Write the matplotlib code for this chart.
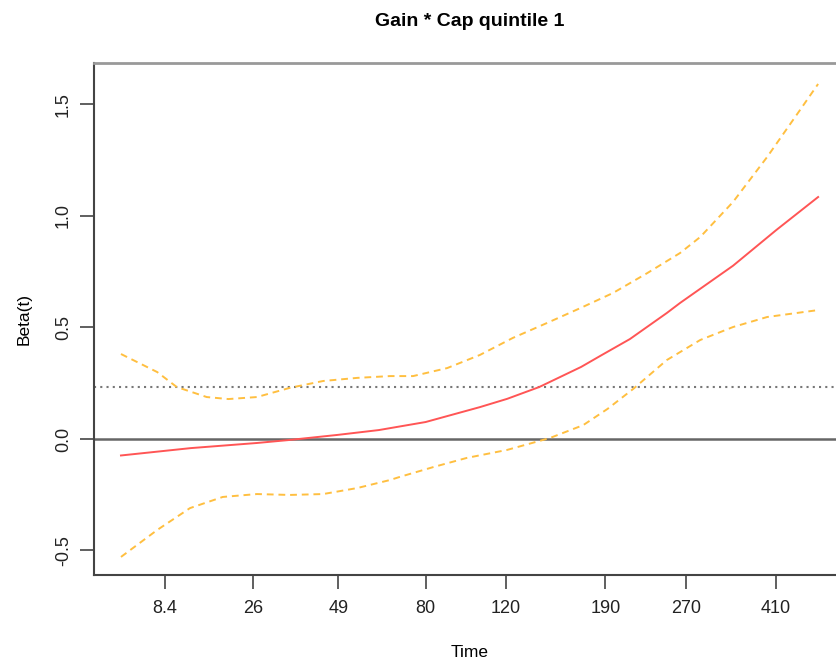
import numpy as np
import matplotlib.pyplot as plt

plt.rcParams['font.family'] = ['Liberation Sans', 'DejaVu Sans']

# transformed time scale (0 = first event, 1 = last event)
tick_pos = [0.063, 0.189, 0.312, 0.437, 0.552, 0.695, 0.811, 0.939]
tick_labels = ['8.4', '26', '49', '80', '120', '190', '270', '410']

# fitted beta(t)
beta_t = [0.00, 0.10, 0.195, 0.24, 0.31, 0.37, 0.437, 0.515, 0.554, 0.60,
          0.66, 0.69, 0.73, 0.783, 0.802, 0.878, 0.94, 1.00]
beta_y = [-0.074, -0.041, -0.018, -0.005, 0.018, 0.040, 0.076, 0.143, 0.18, 0.233,
          0.323, 0.377, 0.448, 0.565, 0.61, 0.777, 0.937, 1.085]

# upper confidence band
upper_t = [0.00, 0.052, 0.08, 0.123, 0.154, 0.195, 0.242, 0.29, 0.339, 0.386,
           0.419, 0.468, 0.515, 0.562, 0.611, 0.659, 0.706, 0.755, 0.802, 0.831,
           0.878, 0.927, 0.974, 1.00]
upper_y = [0.381, 0.30, 0.233, 0.188, 0.179, 0.188, 0.229, 0.26, 0.274, 0.282,
           0.282, 0.318, 0.377, 0.453, 0.52, 0.587, 0.655, 0.744, 0.834, 0.906,
           1.063, 1.265, 1.475, 1.592]

# lower confidence band
lower_t = [0.00, 0.052, 0.099, 0.146, 0.195, 0.242, 0.29, 0.339, 0.386, 0.40,
           0.448, 0.496, 0.554, 0.615, 0.663, 0.698, 0.735, 0.783, 0.831, 0.878, 0.927, 1.00]
lower_y = [-0.529, -0.408, -0.31, -0.26, -0.247, -0.251, -0.247, -0.22, -0.184, -0.170,
           -0.126, -0.085, -0.049, 0.004, 0.062, 0.135, 0.225, 0.354, 0.444, 0.502, 0.547, 0.578]

# coefficient from the overall model
coef = 0.233

fig = plt.figure(figsize=(8.36, 6.61), dpi=100)
ax = fig.add_axes([94/836, 86/661, 752/836, 512/661])

ax.axhline(0, color='#666666', lw=1.8, zorder=1)
ax.axhline(coef, color='#777777', lw=1.5, ls=(0, (1, 2)), zorder=1)
ax.plot(beta_t, beta_y, color='#ff5555', lw=1.4, zorder=3)
ax.plot(upper_t, upper_y, color='#ffbf40', lw=1.4, ls=(0, (3.5, 2.5)), zorder=2)
ax.plot(lower_t, lower_y, color='#ffbf40', lw=1.4, ls=(0, (3.5, 2.5)), zorder=2)

ax.set_xlim(-0.0387, 1.040)
ax.set_ylim(-0.61, 1.686)

ax.set_xticks(tick_pos)
ax.set_xticklabels(tick_labels)
ax.set_yticks([-0.5, 0.0, 0.5, 1.0, 1.5])
ax.set_yticklabels(['-0.5', '0.0', '0.5', '1.0', '1.5'], rotation=90, va='center')
ax.tick_params(axis='both', length=10, width=1.2, color='#444444', labelsize=13,
               labelcolor='#222222', pad=8)
ax.tick_params(axis='y', pad=6)

for s in ['left', 'bottom']:
    ax.spines[s].set_color('#444444')
    ax.spines[s].set_linewidth(1.5)
ax.spines['top'].set_color('#999999')
ax.spines['top'].set_linewidth(2)
ax.spines['right'].set_color('#999999')

ax.set_xlabel('Time', fontsize=12.5, labelpad=20)
ax.set_ylabel('Beta(t)', fontsize=12.5, labelpad=17)
fig.text(470/836, 1 - 21/661, 'Gain * Cap quintile 1', ha='center', va='center',
         fontsize=14, fontweight='bold')

fig.savefig('out.png', dpi=100)
